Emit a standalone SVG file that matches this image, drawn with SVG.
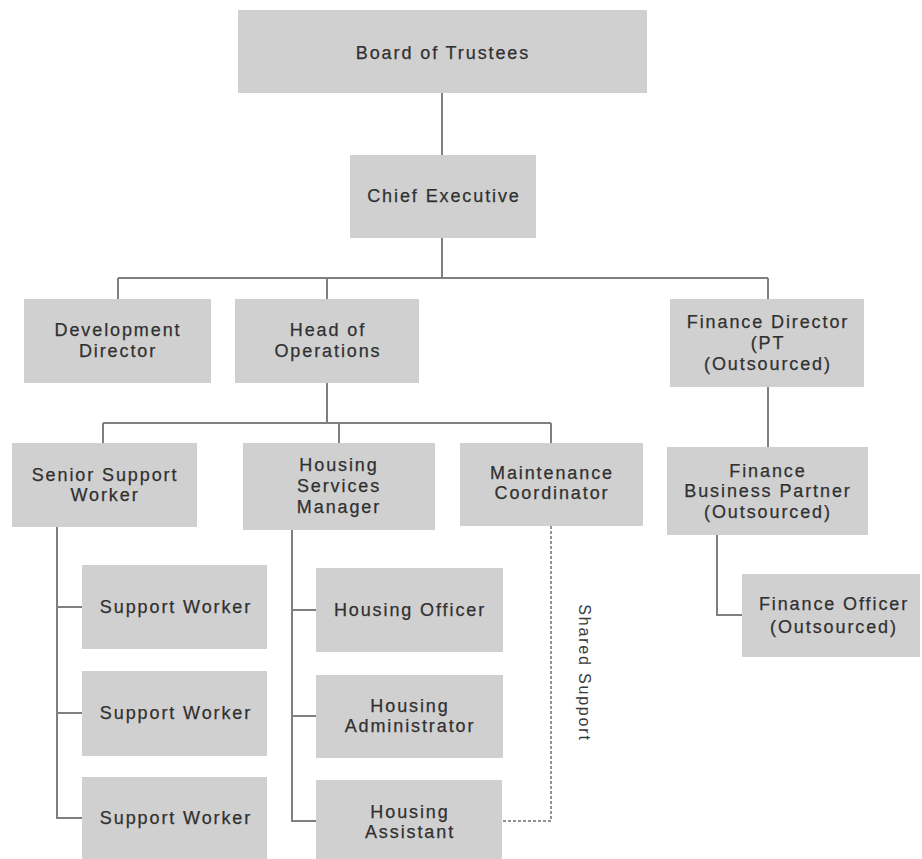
<svg xmlns="http://www.w3.org/2000/svg" width="922" height="859" viewBox="0 0 922 859">
<style>
.box{fill:#d0d0d0}
.t{font-family:"Liberation Sans",Arial,sans-serif;font-size:18px;letter-spacing:1.9px;fill:#303030;stroke:#303030;stroke-width:0.25;text-anchor:middle}
.ln{fill:none;stroke:#7f7f7f;stroke-width:2}
.dash{fill:none;stroke:#6f6f6f;stroke-width:1.5;stroke-dasharray:3 2}
.lbl{font-family:"Liberation Sans",Arial,sans-serif;font-size:16px;letter-spacing:1.8px;fill:#3a3a3a;text-anchor:middle}
</style>
<rect width="922" height="859" fill="#ffffff"/>
<g id="connectors">
<path class="ln" d="M442,93V155M442,238V278M118,278H768M118,278V299M327,278V299M768,278V299"/>
<path class="ln" d="M327,383V423M103,423H551M103,423V443M339,423V443M551,423V443"/>
<path class="ln" d="M768,387V447M717,535V615H742"/>
<path class="ln" d="M57,527V818H82M57,607H82M57,713H82"/>
<path class="ln" d="M292,530V821H316M292,610H316M292,716H316"/>
<path class="dash" d="M551,526V821H502"/>
<text class="lbl" transform="translate(579,673) rotate(90)">Shared Support</text>
</g>
<g id="board"><rect class="box" x="238" y="10" width="409" height="83"/><text class="t" x="443" y="59">Board of Trustees</text></g>
<g id="chief"><rect class="box" x="350" y="155" width="186" height="83"/><text class="t" x="444" y="202">Chief Executive</text></g>
<g id="devdir"><rect class="box" x="24" y="299" width="187" height="84"/><text class="t" x="118" y="336">Development</text><text class="t" x="118" y="357">Director</text></g>
<g id="headops"><rect class="box" x="235" y="299" width="184" height="84"/><text class="t" x="328" y="336">Head of</text><text class="t" x="328" y="357">Operations</text></g>
<g id="findir"><rect class="box" x="670" y="299" width="194" height="88"/><text class="t" x="768" y="328">Finance Director</text><text class="t" x="768" y="349">(PT</text><text class="t" x="768" y="370">(Outsourced)</text></g>
<g id="ssw"><rect class="box" x="12" y="443" width="185" height="84"/><text class="t" x="105" y="481">Senior Support</text><text class="t" x="105" y="501">Worker</text></g>
<g id="hsm"><rect class="box" x="243" y="443" width="192" height="87"/><text class="t" x="339" y="471">Housing</text><text class="t" x="339" y="492">Services</text><text class="t" x="339" y="513">Manager</text></g>
<g id="mc"><rect class="box" x="460" y="443" width="183" height="83"/><text class="t" x="552" y="479">Maintenance</text><text class="t" x="552" y="499">Coordinator</text></g>
<g id="fbp"><rect class="box" x="667" y="447" width="201" height="88"/><text class="t" x="768" y="477">Finance</text><text class="t" x="768" y="497">Business Partner</text><text class="t" x="768" y="518">(Outsourced)</text></g>
<g id="fo"><rect class="box" x="742" y="574" width="178" height="83"/><text class="t" x="834" y="610">Finance Officer</text><text class="t" x="834" y="633">(Outsourced)</text></g>
<g id="sw1"><rect class="box" x="82" y="565" width="185" height="84"/><text class="t" x="176" y="613">Support Worker</text></g>
<g id="sw2"><rect class="box" x="82" y="671" width="185" height="85"/><text class="t" x="176" y="719">Support Worker</text></g>
<g id="sw3"><rect class="box" x="82" y="777" width="185" height="90"/><text class="t" x="176" y="824">Support Worker</text></g>
<g id="ho"><rect class="box" x="316" y="568" width="187" height="84"/><text class="t" x="410" y="616">Housing Officer</text></g>
<g id="had"><rect class="box" x="316" y="675" width="187" height="83"/><text class="t" x="410" y="712">Housing</text><text class="t" x="410" y="732">Administrator</text></g>
<g id="has"><rect class="box" x="316" y="780" width="186" height="90"/><text class="t" x="410" y="818">Housing</text><text class="t" x="410" y="838">Assistant</text></g>
</svg>
